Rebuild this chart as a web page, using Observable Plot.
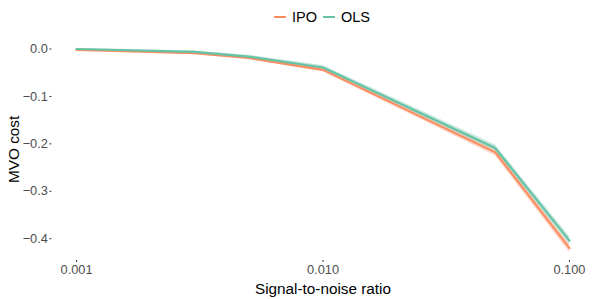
<!DOCTYPE html>
<html>
<head>
<meta charset="utf-8">
<script src="https://cdn.jsdelivr.net/npm/d3@7"></script>
<script src="https://cdn.jsdelivr.net/npm/@observablehq/plot@0.6"></script>
<style>
  html, body { margin: 0; padding: 0; background: #fff; }
  body { width: 598px; height: 299px; overflow: hidden; font-family: "Liberation Sans", Arial, sans-serif; }
  #legend { height: 30px; margin-left: 51px; width: 542px; display: flex; justify-content: center; align-items: center; font-size: 14.5px; color: #000; padding-top: 3px; box-sizing: border-box; }
  .item { display: flex; align-items: center; margin: 0 3px; }
  .key { width: 12px; height: 2px; margin-right: 6px; }
  svg { display: block; }
</style>
</head>
<body>
<div id="legend"></div>
<div id="chart"></div>
<script>
const snr = [0.001, 0.003, 0.005, 0.01, 0.05, 0.1];
const ipo = [-0.002, -0.009, -0.019, -0.044, -0.218, -0.420];
const ols = [0.000, -0.006, -0.016, -0.039, -0.209, -0.404];
const ipoBand = [0.0015, 0.002, 0.003, 0.004, 0.007, 0.009];
const olsBand = [0.0015, 0.002, 0.003, 0.004, 0.007, 0.009];
const seriesNames = ["IPO", "OLS"];
const seriesColors = ["#fc8d62", "#66c2a5"];
const xTicks = [0.001, 0.01, 0.1];
const yTicks = [0, -0.1, -0.2, -0.3, -0.4];

const rows = [];
snr.forEach((s, i) => {
  rows.push({snr: s, v: ipo[i], lo: ipo[i] - ipoBand[i], hi: ipo[i] + ipoBand[i], method: "IPO"});
});
snr.forEach((s, i) => {
  rows.push({snr: s, v: ols[i], lo: ols[i] - olsBand[i], hi: ols[i] + olsBand[i], method: "OLS"});
});

const legend = document.getElementById("legend");
seriesNames.forEach((n, i) => {
  const it = document.createElement("div");
  it.className = "item";
  const k = document.createElement("span");
  k.className = "key";
  k.style.background = seriesColors[i];
  const t = document.createElement("span");
  t.textContent = n;
  it.appendChild(k); it.appendChild(t);
  legend.appendChild(it);
});

const plot = Plot.plot({
  width: 598,
  height: 269,
  marginLeft: 51.4,
  marginRight: 4.4,
  marginTop: 7.6,
  marginBottom: 39,
  style: {fontFamily: "'Liberation Sans', Arial, sans-serif", background: "#fff"},
  x: {type: "log", domain: [Math.pow(10, -3.1), Math.pow(10, -0.9)]},
  y: {domain: [-0.446, 0.023]},
  color: {domain: seriesNames, range: seriesColors},
  marks: [
    Plot.areaY(rows, {x: "snr", y1: "lo", y2: "hi", fill: "method", fillOpacity: 0.35, z: "method"}),
    Plot.line(rows, {x: "snr", y: "v", stroke: "method", z: "method", strokeWidth: 2.2}),
    Plot.axisX({ticks: xTicks, tickFormat: d3.format(".3f"), tickSize: 2, tickPadding: 2, fontSize: 12.8, color: "#4d4d4d", stroke: "#333",
      label: "Signal-to-noise ratio", labelAnchor: "center", labelArrow: "none", labelOffset: 33}),
    Plot.axisY({ticks: yTicks, tickFormat: d3.format(".1f"), tickSize: 2, tickPadding: 2, fontSize: 12.8, color: "#4d4d4d", stroke: "#333",
      label: "MVO cost", labelAnchor: "center", labelArrow: "none", labelOffset: 44})
  ]
});
document.getElementById("chart").appendChild(plot);
plot.querySelectorAll("g[aria-label='x-axis label'] text, g[aria-label='y-axis label'] text").forEach(t => {
  t.setAttribute("fill", "#000");
  t.style.fontSize = "15.3px";
});
plot.querySelectorAll("g[aria-label='x-axis label'], g[aria-label='y-axis label']").forEach(g => {
  g.setAttribute("fill", "#000");
  g.setAttribute("font-size", "15.3");
});
</script>
</body>
</html>
